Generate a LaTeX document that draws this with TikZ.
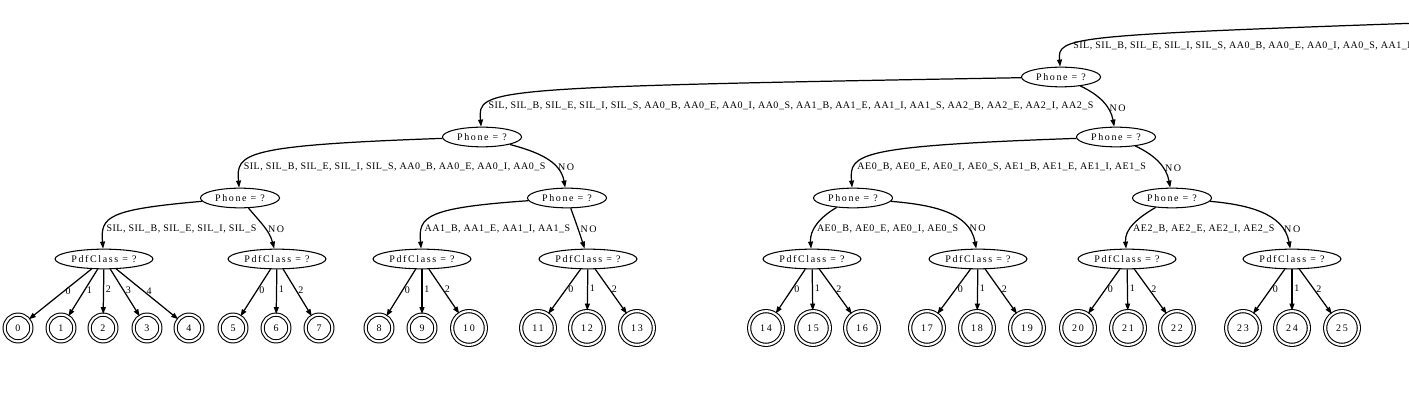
\documentclass[tikz,border=0pt]{standalone}
\usepackage{fontspec}
\setmainfont{Liberation Serif}[LetterSpace=5]
\newfontfamily\widefont{Liberation Serif}[LetterSpace=16]
\usetikzlibrary{shapes.geometric,arrows.meta}
\tikzstyle{qnode}=[ellipse, draw, line width=0.6pt, inner sep=0pt, minimum width=45pt, minimum height=11.2pt, font=\widefont\fontsize{5.7}{6.5}\selectfont]
\tikzstyle{wqnode}=[qnode, minimum width=55.7pt]
\tikzstyle{leaf}=[circle, draw, double, line width=0.6pt, double distance=1.2pt, inner sep=0pt, minimum size=15.2pt, font=\widefont\fontsize{5.7}{6.5}\selectfont]
\tikzstyle{bigleaf}=[leaf, minimum size=19.2pt]
\tikzstyle{dedge}=[line width=0.7pt, -{Triangle[length=4pt, width=2.8pt]}]
\tikzstyle{num}=[pos=0.45, right, inner sep=1pt, font=\widefont\fontsize{5.7}{6.5}\selectfont]
\tikzstyle{ylab}=[pos=0.76, anchor=west, inner sep=1pt]
\tikzstyle{nlab}=[anchor=west, inner sep=1pt, font=\widefont\fontsize{5.7}{6.5}\selectfont]

\begin{document}
\begin{tikzpicture}[x=0.02cm, y=0.02cm, font=\fontsize{5.7}{6.5}\selectfont]
			\useasboundingbox (0,0) rectangle (1409,409);
			\clip (0,0) rectangle (1409,409);
			% questions
			\coordinate (top) at (1420,386);
			\node[qnode] (p1) at (1061,332) {Phone = ?};
			\node[qnode] (p2) at (482,272) {Phone = ?};
			\node[qnode] (p3) at (1116,272) {Phone = ?};
			\node[qnode] (p4) at (240,211) {Phone = ?};
			\node[qnode] (p5) at (567,211) {Phone = ?};
			\node[qnode] (p6) at (853,211) {Phone = ?};
			\node[qnode] (p7) at (1172,211) {Phone = ?};
			\node[wqnode] (c1) at (104,150) {PdfClass = ?};
			\node[wqnode] (c2) at (277,150) {PdfClass = ?};
			\node[wqnode] (c3) at (422,150) {PdfClass = ?};
			\node[wqnode] (c4) at (588,150) {PdfClass = ?};
			\node[wqnode] (c5) at (812,150) {PdfClass = ?};
			\node[wqnode] (c6) at (978,150) {PdfClass = ?};
			\node[wqnode] (c7) at (1127,150) {PdfClass = ?};
			\node[wqnode] (c8) at (1292,150) {PdfClass = ?};
			% leaves
			\node[leaf] (l0) at (18,81) {0};
			\node[leaf] (l1) at (61,81) {1};
			\node[leaf] (l2) at (103,81) {2};
			\node[leaf] (l3) at (147,81) {3};
			\node[leaf] (l4) at (189,81) {4};
			\node[leaf] (l5) at (233,81) {5};
			\node[leaf] (l6) at (276,81) {6};
			\node[leaf] (l7) at (319,81) {7};
			\node[leaf] (l8) at (379,81) {8};
			\node[leaf] (l9) at (422,81) {9};
			\node[bigleaf] (l10) at (469,81) {10};
			\node[bigleaf] (l11) at (538,81) {11};
			\node[bigleaf] (l12) at (587,81) {12};
			\node[bigleaf] (l13) at (637,81) {13};
			\node[bigleaf] (l14) at (766,81) {14};
			\node[bigleaf] (l15) at (813,81) {15};
			\node[bigleaf] (l16) at (862,81) {16};
			\node[bigleaf] (l17) at (927,81) {17};
			\node[bigleaf] (l18) at (977,81) {18};
			\node[bigleaf] (l19) at (1027,81) {19};
			\node[bigleaf] (l20) at (1078,81) {20};
			\node[bigleaf] (l21) at (1128,81) {21};
			\node[bigleaf] (l22) at (1177,81) {22};
			\node[bigleaf] (l23) at (1243,81) {23};
			\node[bigleaf] (l24) at (1292,81) {24};
			\node[bigleaf] (l25) at (1342,81) {25};
			% phone splits
			\draw[dedge] (top)edge[out=182, in=95, out looseness=2.5, in looseness=0.21] node[ylab, pos=0.69] {SIL, SIL\_B, SIL\_E, SIL\_I, SIL\_S, AA0\_B, AA0\_E, AA0\_I, AA0\_S, AA1\_B, AA1\_E, AA1\_I, AA1\_S, AA2\_B, AA2\_E, AA2\_I, AA2\_S, AE0\_B, AE0\_E, AE0\_I, AE0\_S, AE1\_B, AE1\_E, AE1\_I, AE1\_S, AE2\_B, AE2\_E, AE2\_I, AE2\_S} (p1);
			\draw[dedge] (p1)edge[out=181, in=95, out looseness=2.55, in looseness=0.18] node[ylab, pos=0.77] {SIL, SIL\_B, SIL\_E, SIL\_I, SIL\_S, AA0\_B, AA0\_E, AA0\_I, AA0\_S, AA1\_B, AA1\_E, AA1\_I, AA1\_S, AA2\_B, AA2\_E, AA2\_I, AA2\_S} (p2)
				(p1)edge[out=-25, in=100] node[nlab, pos=0.64] {NO} (p3);
			\draw[dedge] (p2)edge[out=182, in=95, out looseness=2.45, in looseness=0.42] node[ylab, pos=0.75] {SIL, SIL\_B, SIL\_E, SIL\_I, SIL\_S, AA0\_B, AA0\_E, AA0\_I, AA0\_S} (p4)
				(p2)edge[out=-15, in=100] node[nlab, pos=0.69] {NO} (p5)
				(p3)edge[out=182, in=95, out looseness=2.45, in looseness=0.38] node[ylab, pos=0.75] {AE0\_B, AE0\_E, AE0\_I, AE0\_S, AE1\_B, AE1\_E, AE1\_I, AE1\_S} (p6)
				(p3)edge[out=-25, in=100] node[nlab, pos=0.63] {NO} (p7);
			\draw[dedge] (p4)edge[out=185, in=95, out looseness=2.2, in looseness=0.75] node[ylab, pos=0.75] {SIL, SIL\_B, SIL\_E, SIL\_I, SIL\_S} (c1)
				(p4)edge[out=-50, in=105] node[nlab, pos=0.565] {NO} (c2)
				(p5)edge[out=184, in=95, out looseness=2.25, in looseness=0.7] node[ylab, pos=0.75] {AA1\_B, AA1\_E, AA1\_I, AA1\_S} (c3)
				(p5)edge[out=-70, in=108] node[nlab, pos=0.53] {NO} (c4)
				(p6)edge[out=-150, in=95] node[ylab, pos=0.6] {AE0\_B, AE0\_E, AE0\_I, AE0\_S} (c5)
				(p6)edge[out=-5, in=100] node[nlab, pos=0.78] {NO} (c6)
				(p7)edge[out=-150, in=95] node[ylab, pos=0.6] {AE2\_B, AE2\_E, AE2\_I, AE2\_S} (c7)
				(p7)edge[out=-5, in=100] node[nlab, pos=0.78] {NO} (c8);
			% pdf classes
			\draw[dedge] (c1)edge node[num]{0} (l0) (c1)edge node[num]{1} (l1) (c1)edge node[num]{2} (l2) (c1)edge node[num]{3} (l3) (c1)edge node[num]{4} (l4);
			\draw[dedge] (c2)edge node[num]{0} (l5) (c2)edge node[num]{1} (l6) (c2)edge node[num]{2} (l7);
			\draw[dedge] (c3)edge node[num]{0} (l8) (c3)edge node[num]{1} (l9) (c3)edge node[num]{2} (l10);
			\draw[dedge] (c4)edge node[num]{0} (l11) (c4)edge node[num]{1} (l12) (c4)edge node[num]{2} (l13);
			\draw[dedge] (c5)edge node[num]{0} (l14) (c5)edge node[num]{1} (l15) (c5)edge node[num]{2} (l16);
			\draw[dedge] (c6)edge node[num]{0} (l17) (c6)edge node[num]{1} (l18) (c6)edge node[num]{2} (l19);
			\draw[dedge] (c7)edge node[num]{0} (l20) (c7)edge node[num]{1} (l21) (c7)edge node[num]{2} (l22);
			\draw[dedge] (c8)edge node[num]{0} (l23) (c8)edge node[num]{1} (l24) (c8)edge node[num]{2} (l25);
		\end{tikzpicture}
\end{document}
